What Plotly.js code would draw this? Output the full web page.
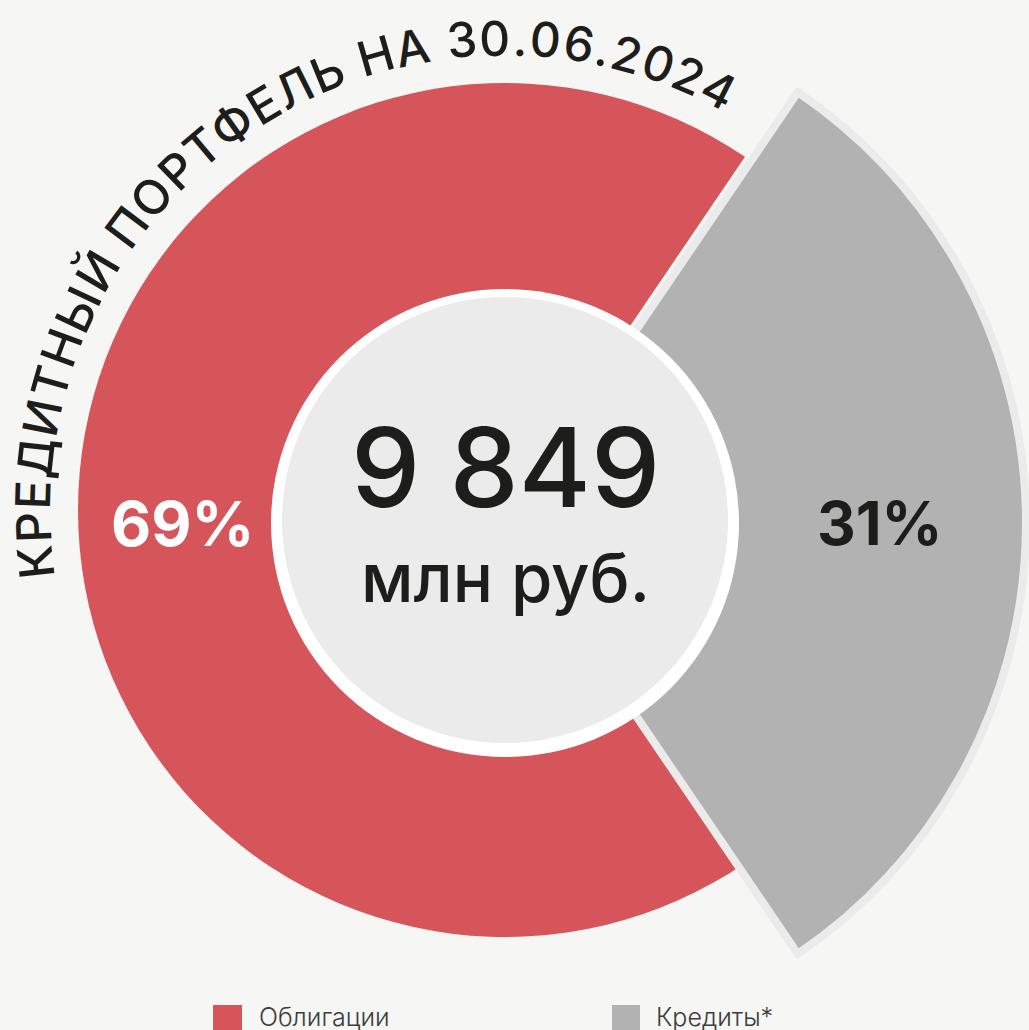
<!DOCTYPE html>
<html><head><meta charset="utf-8">
<script src="https://cdn.plot.ly/plotly-3.0.1.min.js"></script>
<style>
html,body{margin:0;padding:0;width:1029px;height:1030px;overflow:hidden;background:#f6f6f4;}
#chart{position:absolute;left:-85px;top:-85px;width:1200px;height:1200px;}
</style></head><body><div id="chart"></div>
<script>
// ---- data ----
const categories = ['Облигации', 'Кредиты*'];
const shares = [69, 31];
const sliceColors = ['#d5555a', '#b2b2b2'];
const shareLabelColors = ['#ffffff', '#1d1d1b'];
const totalValue = '9 849';
const totalUnit = 'млн руб.';
const titleText = 'КРЕДИТНЫЙ ПОРТФЕЛЬ НА 30.06.2024';

// ---- geometry helpers (page pixels -> paper) ----
const W = 1200, H = 1200, OX = 85, OY = 85;
const px = x => (x + OX) / W;
const py = y => 1 - (y + OY) / H;
function dom(cx, cy, r) { return {x: [px(cx - r), px(cx + r)], y: [py(cy + r), py(cy - r)]}; }
function circ(cx, cy, r, fill) {
  return {type: 'circle', xref: 'paper', yref: 'paper', layer: 'above',
    x0: px(cx - r), x1: px(cx + r), y0: py(cy + r), y1: py(cy - r),
    fillcolor: fill, line: {width: 0}};
}
function rect(x0, y0, x1, y1, fill) {
  return {type: 'rect', xref: 'paper', yref: 'paper', layer: 'above',
    x0: px(x0), x1: px(x1), y0: py(y1), y1: py(y0), fillcolor: fill, line: {width: 0}};
}

const FONT = 'Inter, "Noto Sans", sans-serif';
const clear = 'rgba(0,0,0,0)';
const rot = 90 + shares[1] * 3.6 / 2;

function draw() {
  const traces = [
    {type: 'pie', labels: categories, values: shares, sort: false, direction: 'clockwise',
     rotation: rot, hole: 0.5, domain: dom(505, 510, 427),
     marker: {colors: [sliceColors[0], clear], line: {width: 0}},
     textinfo: 'none', hoverinfo: 'skip', showlegend: false},
    {type: 'pie', labels: categories, values: shares, sort: false, direction: 'clockwise',
     rotation: rot, hole: 0.42, domain: dom(505, 523, 521),
     marker: {colors: [clear, sliceColors[1]], line: {color: [clear, '#ebebeb'], width: [0, 8]}},
     textinfo: 'none', hoverinfo: 'skip', showlegend: false}
  ];

  const shapes = [
    circ(505, 523, 234, '#ffffff'),
    circ(505, 520, 223, '#ebebeb'),
    rect(213, 1005, 242, 1040, sliceColors[0]),
    rect(612, 1005, 640, 1040, sliceColors[1])
  ];

  const ann = [];
  const A = (x, y, text, size, color, weight, extra) => Object.assign({
    xref: 'paper', yref: 'paper', x: px(x), y: py(y), text: text, showarrow: false,
    xanchor: 'center', yanchor: 'middle', borderpad: 0,
    font: {family: FONT, size: size, color: color, weight: weight}}, extra || {});

  ann.push(A(505, 467, totalValue, 110, '#1d1d1b', 500));
  ann.push(A(505, 577, totalUnit, 67, '#1d1d1b', 500));
  ann.push(A(183, 523, shares[0] + '%', 62, shareLabelColors[0], 700));
  ann.push(A(880, 523, shares[1] + '%', 60, shareLabelColors[1], 700));
  ann.push(A(258, 1017, categories[0], 25, '#3c3c3b', 300, {xanchor: 'left'}));
  ann.push(A(655, 1017, categories[1], 25, '#3c3c3b', 300, {xanchor: 'left'}));

  // curved title along an arc
  const tSize = 48, tWeight = 500;
  const ctx = document.createElement('canvas').getContext('2d');
  ctx.font = tWeight + ' ' + tSize + 'px ' + FONT;
  const chars = Array.from(titleText);
  const widths = chars.map(c => ctx.measureText(c).width);
  const tcx = 505, tcy = 510, tr = 472;
  const a0 = 186.3 * Math.PI / 180, a1 = 63 * Math.PI / 180;
  const arc = tr * (a0 - a1);
  const n = chars.length;
  let natural = 0;
  for (let i = 0; i < n - 1; i++) natural += widths[i] / 2 + widths[i + 1] / 2;
  const gap = (arc - natural) / (n - 1);
  let s = 0;
  for (let i = 0; i < n; i++) {
    if (i > 0) s += widths[i - 1] / 2 + widths[i] / 2 + gap;
    const phi = a0 - s / tr;
    const x = tcx + tr * Math.cos(phi);
    const y = tcy - tr * Math.sin(phi);
    if (chars[i] !== ' ') {
      ann.push(A(x, y, chars[i], tSize, '#1d1d1b', tWeight, {textangle: 90 - phi * 180 / Math.PI}));
    }
  }

  const layout = {
    width: W, height: H, margin: {l: 0, r: 0, t: 0, b: 0},
    paper_bgcolor: '#f6f6f4', plot_bgcolor: '#f6f6f4', showlegend: false,
    shapes: shapes, annotations: ann
  };
  Plotly.newPlot('chart', traces, layout, {staticPlot: true, displayModeBar: false});
}
if (document.fonts && document.fonts.ready) document.fonts.ready.then(draw); else draw();
</script></body></html>
